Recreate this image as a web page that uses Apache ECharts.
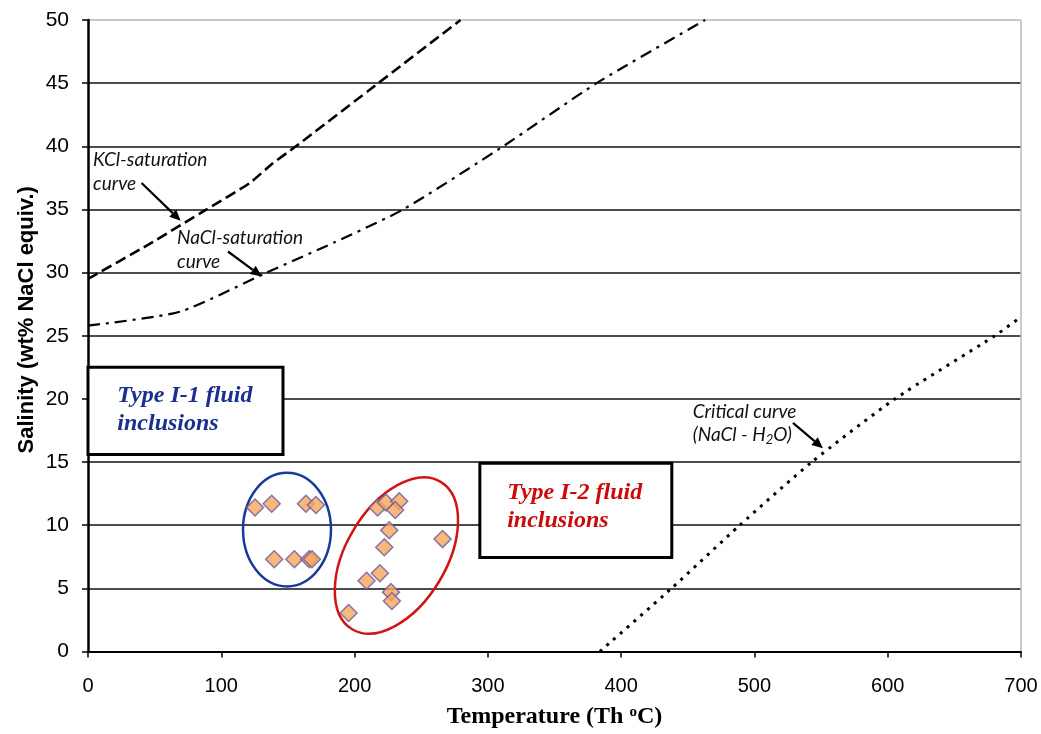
<!DOCTYPE html>
<html>
<head>
<meta charset="utf-8">
<script src="https://cdn.jsdelivr.net/npm/echarts@6/dist/echarts.min.js"></script>
<style>
html,body{margin:0;padding:0;background:#fff;}
#chart{width:1041px;height:734px;}
</style>
</head>
<body>
<div id="chart"></div>
<script>
// ---- data ----
const xTicks = [0, 100, 200, 300, 400, 500, 600, 700];
const yTicks = [0, 5, 10, 15, 20, 25, 30, 35, 40, 45, 50];

const tempI1 = [125.3, 137.8, 163.5, 171, 139.7, 154.8, 166, 168];
const salI1  = [11.4, 11.7, 11.7, 11.6, 7.3, 7.3, 7.3, 7.3];

const tempI2 = [217.3, 223.5, 233.5, 230.5, 226, 222.3, 266, 219, 209, 227.3, 228, 195.5];
const salI2  = [11.4, 11.8, 11.9, 11.2, 9.6, 8.25, 8.9, 6.2, 5.6, 4.7, 4.0, 3.05];

const kclT = [0, 45, 89, 121.5, 138, 156, 217.8, 279.5];
const kclS = [29.5, 32.2, 35, 37.1, 38.6, 40, 45, 50];

const naclT = [0, 69, 134, 185, 236.5, 311.5, 381.6, 463];
const naclS = [25.8, 26.9, 30, 32.4, 35, 40, 45, 50];

const critT = [384, 437.8, 489, 543, 605.4, 680.4, 700];
const critS = [0, 5, 10, 15, 20, 25, 26.5];

const zip = (a, b) => a.map((v, i) => [v, b[i]]);

const chart = echarts.init(document.getElementById('chart'));

const splitColors = yTicks.map((v, i) => i === yTicks.length - 1 ? '#b4b4c4' : '#111');
const xSplitColors = xTicks.map((v, i) => i === xTicks.length - 1 ? '#b8b8c8' : 'rgba(0,0,0,0)');

const dotStyle = {
  color: '#F6A65B',
  borderColor: '#6A5A9E',
  borderWidth: 1.5
};

chart.setOption({
  animation: false,
  backgroundColor: '#fff',
  grid: { left: 88, right: 20, top: 20, bottom: 82, containLabel: false },
  xAxis: {
    type: 'value', min: 0, max: 700, interval: 100,
    axisLine: { show: true, onZero: false, lineStyle: { color: '#000', width: 2 } },
    axisTick: { show: true, inside: false, length: 6, lineStyle: { color: '#000', width: 1.5 } },
    axisLabel: { margin: 25, color: '#000', fontSize: 20,
      fontFamily: 'Liberation Sans Narrow, Liberation Sans, Arial, sans-serif' },
    splitLine: { show: true, lineStyle: { color: xSplitColors, width: 1.5 } },
    name: 'Temperature (Th {sup|o}C)',
    nameLocation: 'middle', nameGap: 53,
    nameTextStyle: {
      fontFamily: 'Liberation Serif, Times New Roman, serif', fontWeight: 'bold',
      fontSize: 24, color: '#000',
      rich: { sup: { fontFamily: 'Liberation Serif, serif', fontWeight: 'bold', fontSize: 15, color: '#000', padding: [0, 0, 10, 0] } }
    }
  },
  yAxis: {
    type: 'value', min: 0, max: 50, interval: 5,
    axisLine: { show: true, onZero: false, lineStyle: { color: '#000', width: 2.5 } },
    axisTick: { show: true, inside: false, length: 6, lineStyle: { color: '#000', width: 1.5 } },
    axisLabel: { margin: 19, color: '#000', fontSize: 21,
      fontFamily: 'Liberation Sans, Arial, sans-serif' },
    splitLine: { show: true, lineStyle: { color: splitColors, width: 1.6 } }
  },
  series: [
    {
      name: 'KCl-saturation curve', type: 'line', data: zip(kclT, kclS),
      showSymbol: false, symbol: 'none', smooth: 0.15, z: 3,
      lineStyle: { color: '#000', width: 2.6, type: [11, 5] }
    },
    {
      name: 'NaCl-saturation curve', type: 'line', data: zip(naclT, naclS),
      showSymbol: false, symbol: 'none', smooth: 0.2, z: 3,
      lineStyle: { color: '#000', width: 2.2, type: [12, 6, 3, 6] }
    },
    {
      name: 'Critical curve', type: 'line', data: zip(critT, critS),
      showSymbol: false, symbol: 'none', smooth: 0.2, z: 3,
      lineStyle: { color: '#000', width: 3, type: [3, 6] }
    },
    {
      name: 'Type I-1', type: 'scatter', data: zip(tempI1, salI1),
      symbol: 'diamond', symbolSize: 17, z: 10, itemStyle: dotStyle
    },
    {
      name: 'Type I-2', type: 'scatter', data: zip(tempI2, salI2),
      symbol: 'diamond', symbolSize: 17, z: 10, itemStyle: dotStyle
    }
  ]
});

// ---- annotations placed through the axes ----
const px = (x, y) => chart.convertToPixel({ gridIndex: 0 }, [x, y]);
const p0 = px(0, 0), p1 = px(100, 10);
const sx = (p1[0] - p0[0]) / 100;   // px per °C
const sy = (p0[1] - p1[1]) / 10;    // px per wt%

function arrow(a, b) {
  const A = px(a[0], a[1]), B = px(b[0], b[1]);
  const ang = Math.atan2(B[1] - A[1], B[0] - A[0]);
  const L = 11, W = 5;
  const bx = B[0] - L * Math.cos(ang), by = B[1] - L * Math.sin(ang);
  const nx = -Math.sin(ang) * W, ny = Math.cos(ang) * W;
  return [
    { type: 'line', z: 20, shape: { x1: A[0], y1: A[1], x2: bx, y2: by },
      style: { stroke: '#000', lineWidth: 2.2 } },
    { type: 'polygon', z: 20, shape: { points: [[B[0], B[1]], [bx + nx, by + ny], [bx - nx, by - ny]] },
      style: { fill: '#000' } }
  ];
}

function txt(x, y, text, opts) {
  const P = px(x, y);
  return {
    type: 'text', z: 20, x: P[0], y: P[1],
    style: Object.assign({ text: text, verticalAlign: 'middle', align: 'left' }, opts)
  };
}

function box(x1, y1, x2, y2) {
  const A = px(x1, y1), B = px(x2, y2);
  return { type: 'rect', z: 6,
    shape: { x: A[0], y: A[1], width: B[0] - A[0], height: B[1] - A[1] },
    style: { fill: '#fff', stroke: '#000', lineWidth: 3 } };
}

const noteFont = { fontFamily: 'Lato, Open Sans, sans-serif', fontStyle: 'italic', fontSize: 19, fill: '#111' };
const typeFont = { fontFamily: 'Liberation Serif, Times New Roman, serif', fontStyle: 'italic', fontWeight: 'bold', fontSize: 24 };

const c1 = px(149.3, 9.65);
const c2 = px(231.4, 7.6);

const graphics = [
  // ellipses
  { type: 'ellipse', z: 7, x: c1[0], y: c1[1], shape: { cx: 0, cy: 0, rx: 33 * sx, ry: 4.5 * sy },
    style: { fill: 'none', stroke: '#1a3a98', lineWidth: 2.5 } },
  { type: 'ellipse', z: 7, x: c2[0], y: c2[1], rotation: 59 * Math.PI / 180,
    shape: { cx: 0, cy: 0, rx: 64.5 * sx, ry: 37.5 * sx },
    style: { fill: 'none', stroke: '#d01515', lineWidth: 2.5 } },
  // boxes
  box(0, 22.5, 146.3, 15.6),
  box(294, 14.9, 438, 7.45),
  txt(22, 20.25, 'Type I-1 fluid', Object.assign({ fill: '#1b2f8f' }, typeFont)),
  txt(22, 18.0, 'inclusions', Object.assign({ fill: '#1b2f8f' }, typeFont)),
  txt(314.5, 12.58, 'Type I-2 fluid', Object.assign({ fill: '#cc0a0a' }, typeFont)),
  txt(314.5, 10.36, 'inclusions', Object.assign({ fill: '#cc0a0a' }, typeFont)),
  // curve notes
  txt(3.75, 38.92, 'KCl-saturation', noteFont),
  txt(3.75, 37.0, 'curve', noteFont),
  txt(66.8, 32.75, 'NaCl-saturation', noteFont),
  txt(66.8, 30.85, 'curve', noteFont),
  txt(453.8, 19.01, 'Critical curve', noteFont),
  txt(453.8, 17.17, '(NaCl - H{sub|2}O)', Object.assign({
    rich: { sub: { fontFamily: 'Lato, Open Sans, sans-serif', fontStyle: 'italic', fontSize: 13, fill: '#111', padding: [10, 0, 0, 0] } }
  }, noteFont)),
  ...arrow([40.2, 37.1], [69.5, 34.1]),
  ...arrow([105, 31.67], [130.3, 29.7]),
  ...arrow([528.9, 18.1], [551.4, 16.1]),
  // y-axis title
  { type: 'text', z: 20, x: 27, y: (p0[1] + px(0, 50)[1]) / 2 - 16, rotation: Math.PI / 2,
    style: { text: 'Salinity (wt% NaCl equiv.)', align: 'center', verticalAlign: 'middle',
      fontFamily: 'Liberation Sans, Arial, sans-serif', fontWeight: 'bold', fontSize: 22, fill: '#000' } }
];

chart.setOption({ graphic: graphics });
</script>
</body>
</html>
